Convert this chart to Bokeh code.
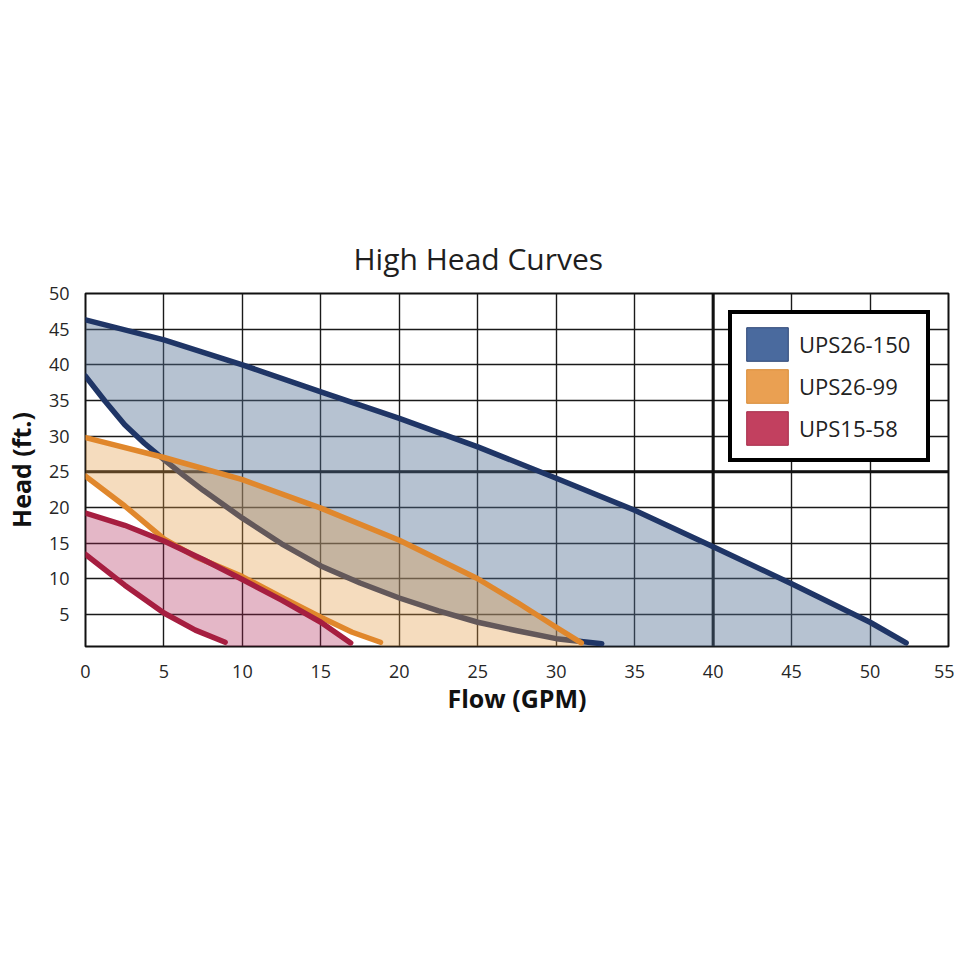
from bokeh.plotting import figure
from bokeh.models import Range1d, Span, Legend, LegendItem, FixedTicker
from bokeh.embed import file_html
from bokeh.resources import INLINE

# ---- data ----
x_ticks = [0, 5, 10, 15, 20, 25, 30, 35, 40, 45, 50, 55]
y_ticks = [5, 10, 15, 20, 25, 30, 35, 40, 45, 50]

labels = ["UPS26-150", "UPS26-99", "UPS15-58"]

ups150_max_x = [0, 5, 10, 15, 20, 25, 30, 35, 40, 45, 50, 52.3]
ups150_max_y = [46.3, 43.5, 40.0, 36.2, 32.5, 28.5, 24.1, 19.6, 14.5, 9.3, 3.9, 1.0]
ups150_min_x = [0, 1.25, 2.5, 3.75, 5, 6.25, 7.5, 10, 12.5, 15, 17.5, 20, 22.5, 25, 27.5, 30, 32.9]
ups150_min_y = [38.4, 34.9, 31.6, 29.0, 26.7, 24.5, 22.4, 18.5, 14.9, 11.8, 9.4, 7.3, 5.5, 3.9, 2.7, 1.6, 0.9]

ups99_max_x = [0, 5, 10, 15, 20, 25, 27.5, 30, 31.6]
ups99_max_y = [29.8, 27.0, 23.9, 19.9, 15.4, 10.0, 6.7, 3.2, 1.0]
ups99_min_x = [0, 2.5, 5, 7, 10, 12.5, 15, 17, 18.8]
ups99_min_y = [24.4, 20.2, 15.6, 13.1, 10.3, 7.4, 4.6, 2.5, 1.1]

ups58_max_x = [0, 2.5, 5, 7.5, 10, 12.5, 15, 16.9]
ups58_max_y = [19.2, 17.5, 15.3, 12.7, 9.9, 7.0, 3.9, 1.0]
ups58_min_x = [0, 2.5, 5, 7, 8.9]
ups58_min_y = [13.4, 9.1, 5.2, 2.8, 1.1]

x_start, x_end = 0, 55
y_start, y_end = 0.5, 50

FONT = "Open Sans"

p = figure(
    output_backend="svg", toolbar_location=None,
    frame_width=863, frame_height=353,
    min_border_left=84, min_border_right=6, min_border_top=293, min_border_bottom=240,
    x_range=Range1d(x_start, x_end), y_range=Range1d(y_start, y_end),
    title="High Head Curves",
)
p.background_fill_color = "white"
p.border_fill_color = "white"
p.outline_line_color = "#111111"
p.outline_line_width = 2

p.title.text_font = FONT
p.title.text_font_size = "30px"
p.title.text_font_style = "normal"
p.title.text_color = "#1e1e1e"
p.title.align = "left"
p.title.offset = 268
p.title.standoff = 29

for ax in (p.xaxis[0], p.yaxis[0]):
    ax.axis_line_color = None
    ax.major_tick_line_color = None
    ax.minor_tick_line_color = None
    ax.major_tick_out = 0
    ax.major_tick_in = 0
    ax.major_label_text_font = FONT
    ax.major_label_text_font_size = "18px"
    ax.major_label_text_color = "#262626"
    ax.axis_label_text_font = FONT
    ax.axis_label_text_font_size = "25px"
    ax.axis_label_text_font_style = "bold"
    ax.axis_label_text_color = "#111111"

p.xaxis.ticker = FixedTicker(ticks=x_ticks)
p.yaxis.ticker = FixedTicker(ticks=y_ticks)
p.xaxis.axis_label = "Flow (GPM)"
p.yaxis.axis_label = "Head (ft.)"
p.xaxis.major_label_standoff = 18
p.yaxis.major_label_standoff = 16
p.xaxis.axis_label_standoff = 0
p.yaxis.axis_label_standoff = 8

p.xgrid.ticker = FixedTicker(ticks=x_ticks)
p.ygrid.ticker = FixedTicker(ticks=y_ticks)
for g in (p.xgrid[0], p.ygrid[0]):
    g.grid_line_color = "#1a1a1a"
    g.grid_line_width = 1.4

p.add_layout(Span(location=40, dimension="height", line_color="#111111", line_width=3, level="underlay"))
p.add_layout(Span(location=25, dimension="width", line_color="#111111", line_width=3, level="underlay"))


def region(ux, uy, lx, ly):
    xs = list(ux) + [ux[-1], lx[-1]] + list(lx)[::-1]
    ys = list(uy) + [y_start, y_start] + list(ly)[::-1]
    return xs, ys


series = [
    (ups150_max_x, ups150_max_y, ups150_min_x, ups150_min_y, "#506e91", 0.42, "#1f3566"),
    (ups99_max_x, ups99_max_y, ups99_min_x, ups99_min_y, "#e29b45", 0.35, "#e0872c"),
    (ups58_max_x, ups58_max_y, ups58_min_x, ups58_min_y, "#ac2354", 0.33, "#a61e40"),
]

for ux, uy, lx, ly, fc, fa, lc in series:
    xs, ys = region(ux, uy, lx, ly)
    p.patch(xs, ys, fill_color=fc, fill_alpha=fa, line_color=None)
    p.line(ux, uy, line_color=lc, line_width=5.5, line_cap="round", line_join="round")
    p.line(lx, ly, line_color=lc, line_width=5.5, line_cap="round", line_join="round")

swatch_fill = ["#4a6a9e", "#eaa052", "#c2405f"]
swatch_line = ["#2d4676", "#d88a35", "#a52a48"]
items = []
for lab, sf, sl in zip(labels, swatch_fill, swatch_line):
    r = p.rect(x=[float("nan")], y=[float("nan")], width=1, height=1,
               fill_color=sf, line_color=sl, line_width=1)
    items.append(LegendItem(label=lab, renderers=[r]))

legend = Legend(
    items=items, location=(643, 184),
    border_line_color="#000000", border_line_width=4.5, border_line_alpha=1,
    background_fill_color="white", background_fill_alpha=1,
    label_text_font=FONT, label_text_font_size="22px", label_text_color="#222222",
    glyph_width=52, glyph_height=42, label_standoff=6, label_width=118,
    padding=9, spacing=0, margin=0,
)
p.add_layout(legend, "center")

open("out.html", "w").write(file_html(p, INLINE))
